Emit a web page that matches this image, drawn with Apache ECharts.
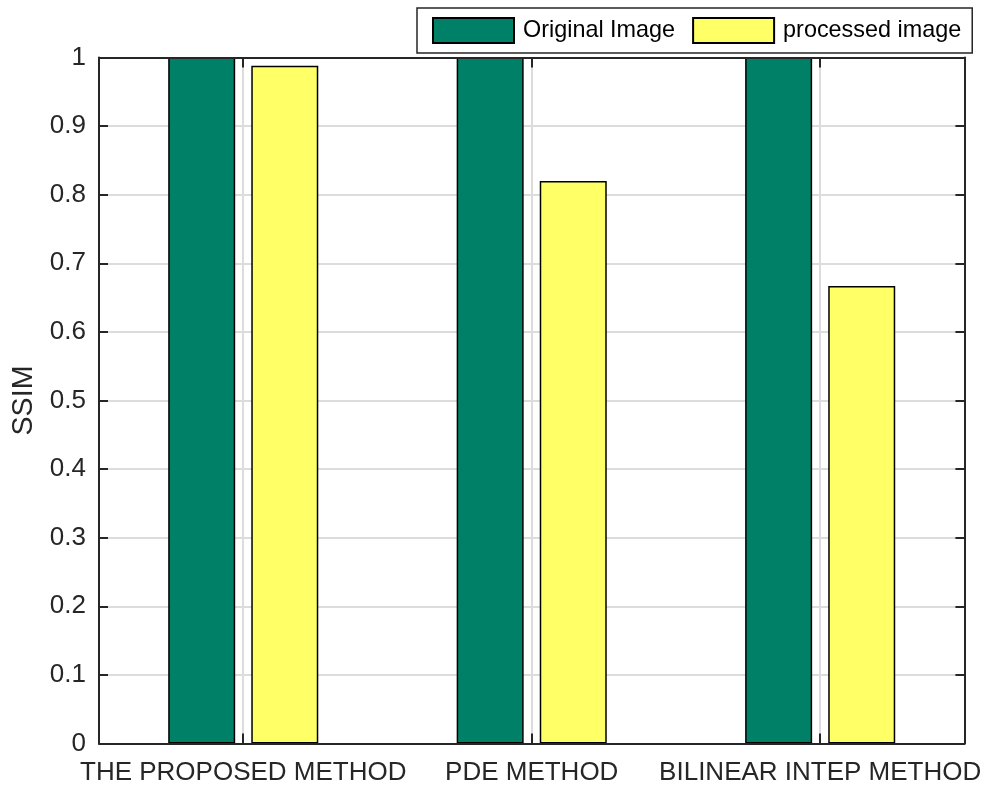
<!DOCTYPE html>
<html>
<head>
<meta charset="utf-8">
<title>SSIM comparison</title>
<script src="https://cdn.jsdelivr.net/npm/echarts@6/dist/echarts.min.js"></script>
<style>
  html, body { margin: 0; padding: 0; background: #ffffff; }
  #chart { width: 984px; height: 787px; }
</style>
</head>
<body>
<div id="chart"></div>
<script>
// Methods compared
const categories = ['THE PROPOSED METHOD', 'PDE METHOD', 'BILINEAR INTEP METHOD'];
// SSIM of the reference image against itself, and of each processed result
const originalValues = [1, 1, 1];
const processedValues = [0.988, 0.820, 0.667];
const seriesNames = ['Original Image', 'processed image'];
// Y tick range
const yMin = 0;
const yMax = 1;
const yStep = 0.1;

const FONT = '"Liberation Sans", Arial, Helvetica, sans-serif';
const AXIS = '#262626';
const GRIDC = '#dcdcdc';
const AXFS = 26;

const chart = echarts.init(document.getElementById('chart'), null, { renderer: 'canvas' });

// Top and right axes close the plot box
const boxAxisX = {
  type: 'category',
  data: categories,
  position: 'top',
  z: 5,
  axisLine: { show: true, onZero: false, lineStyle: { color: AXIS, width: 2 } },
  axisTick: { show: true, inside: true, alignWithLabel: true, length: 10, lineStyle: { color: AXIS, width: 2 } },
  axisLabel: { show: false },
  splitLine: { show: false }
};

const boxAxisY = {
  type: 'value',
  min: yMin, max: yMax, interval: yStep,
  position: 'right',
  axisLine: { show: true, onZero: false, lineStyle: { color: AXIS, width: 2 } },
  axisTick: { show: true, inside: true, length: 9, lineStyle: { color: AXIS, width: 2 } },
  axisLabel: { show: false },
  splitLine: { show: false }
};

chart.setOption({
  animation: false,
  backgroundColor: '#ffffff',
  textStyle: { fontFamily: FONT },
  grid: { left: 99, right: 18, top: 57.5, bottom: 43.5, containLabel: false },
  legend: {
    left: 417,
    top: 8,
    orient: 'horizontal',
    icon: 'rect',
    itemWidth: 81,
    itemHeight: 25,
    itemGap: 17,
    padding: [9, 11, 9, 15],
    borderColor: AXIS,
    borderWidth: 1.5,
    backgroundColor: '#ffffff',
    textStyle: { fontSize: 23.4, color: '#000000', fontFamily: FONT, padding: [0, 0, 0, 4] },
    data: seriesNames
  },
  xAxis: [
    {
      type: 'category',
      data: categories,
      position: 'bottom',
      z: 5,
      axisLine: { show: true, onZero: false, lineStyle: { color: AXIS, width: 2 } },
      axisTick: { show: true, inside: true, alignWithLabel: true, length: 10, lineStyle: { color: AXIS, width: 2 } },
      axisLabel: { show: true, fontSize: AXFS, color: AXIS, margin: 16, fontFamily: FONT, interval: 0 },
      splitLine: { show: false }
    },
    boxAxisX
  ],
  yAxis: [
    {
      type: 'value',
      min: yMin, max: yMax, interval: yStep,
      position: 'left',
      name: 'SSIM',
      nameLocation: 'middle',
      nameGap: 60,
      nameTextStyle: { fontSize: 28.6, color: AXIS, fontFamily: FONT },
      axisLine: { show: true, onZero: false, lineStyle: { color: AXIS, width: 2 } },
      axisTick: { show: true, inside: true, length: 9, lineStyle: { color: AXIS, width: 2 } },
      axisLabel: { show: true, fontSize: AXFS, color: AXIS, margin: 13, fontFamily: FONT },
      splitLine: { show: true, lineStyle: { color: GRIDC, width: 2 } }
    },
    boxAxisY
  ],
  series: [
    {
      // vertical grid lines at each category centre
      name: 'xgrid',
      type: 'line',
      data: [],
      silent: true,
      z: 1,
      markLine: {
        silent: true,
        symbol: 'none',
        label: { show: false },
        lineStyle: { color: GRIDC, width: 2, type: 'solid' },
        data: categories.map(c => ({ xAxis: c }))
      }
    },
    {
      name: seriesNames[0],
      type: 'bar',
      data: originalValues,
      barWidth: 67,
      barGap: '24%',
      itemStyle: { color: '#008066', borderColor: '#000000', borderWidth: 1.5 },
      z: 2
    },
    {
      name: seriesNames[1],
      type: 'bar',
      data: processedValues,
      barWidth: 67,
      barGap: '24%',
      itemStyle: { color: '#ffff66', borderColor: '#000000', borderWidth: 1.5 },
      z: 2
    }
  ]
});
</script>
</body>
</html>
